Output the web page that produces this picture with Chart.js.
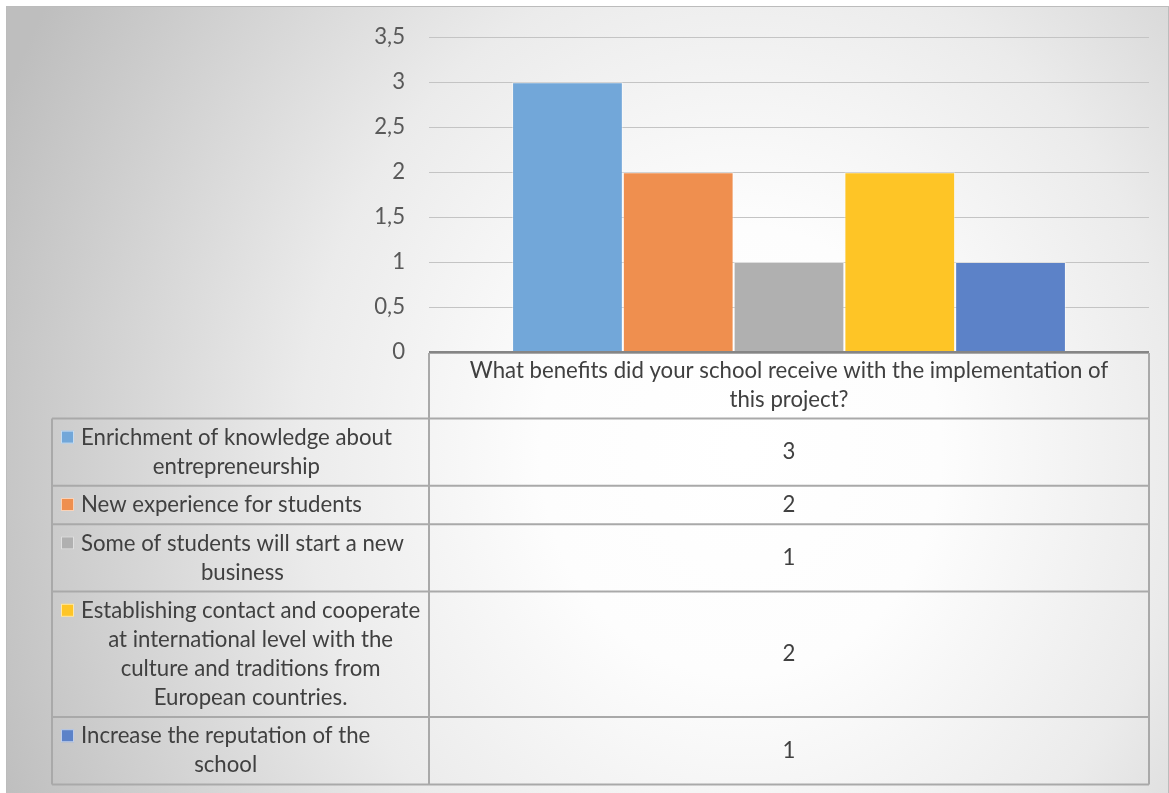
<!DOCTYPE html>
<html>
<head>
<meta charset="utf-8">
<script src="https://cdn.jsdelivr.net/npm/chart.js@4.4.1/dist/chart.umd.min.js"></script>
<style>
  html, body { margin: 0; padding: 0; background: #fff; }
  body { width: 1169px; height: 793px; overflow: hidden; position: relative; }
  #frame {
    position: absolute; left: 6px; top: 6px; width: 1161px; height: 800px;
    border: 1px solid #bcbcbc;
    background: radial-gradient(ellipse 800px 900px at 734px 444px,
      #ffffff 0%, #fdfdfd 25%, #ebebeb 55%, #bebebe 100%);
  }
  #wrap { position: absolute; left: 0; top: 0; width: 1169px; height: 793px; }
</style>
</head>
<body>
<div id="frame"></div>
<div id="wrap"><canvas id="chart"></canvas></div>
<script>
// --- データ ---
const question = ['What benefits did your school receive with the implementation of', 'this project?'];
const answers = [
  ['Enrichment of knowledge about', 'entrepreneurship'],
  ['New experience for students'],
  ['Some of students will start a new', 'business'],
  ['Establishing contact and cooperate', 'at international level with the', 'culture and traditions from', 'European countries.'],
  ['Increase the reputation of the', 'school']
];
const counts = [3, 2, 1, 2, 1];
const colors = ['#72a7d9', '#ef8f4f', '#b0b0b0', '#fec526', '#5c82c8'];
const yTickLabels = ['0', '0,5', '1', '1,5', '2', '2,5', '3', '3,5'];

// フォントサイズ: 一番長い凡例行が元の幅 (約340px) になるように合わせる
const FONT = 'Lato';
const probe = document.createElement('canvas').getContext('2d');
probe.font = '100px ' + FONT;
const fontPx = Math.round(100 * 340 / probe.measureText(answers[3][0]).width * 10) / 10;
const LINE_H = 29;
const TEXT_COLOR = '#404040';
const BORDER = '#a9a9a9';

// --- データテーブル (Excel風) を描くプラグイン ---
const dataTable = {
  id: 'dataTable',
  afterDraw(chart) {
    const ctx = chart.ctx;
    const xs = chart.scales.x;
    const top = chart.chartArea.bottom + 1;
    const colL = 52, colM = xs.left, colR = xs.right;
    const rowH = n => n * LINE_H + 9.4;

    ctx.save();
    ctx.font = fontPx + 'px ' + FONT;
    ctx.fillStyle = TEXT_COLOR;
    ctx.textBaseline = 'middle';
    ctx.textAlign = 'center';

    // ヘッダー行 (質問)
    const header = chart.data.labels[0];
    let y = top;
    const hh = rowH(header.length) - 2;
    header.forEach((line, i) => {
      ctx.fillText(line, (colM + colR) / 2, y + hh / 2 + (i - (header.length - 1) / 2) * LINE_H);
    });
    const rowTops = [y];
    y += hh;

    // 各回答の行
    chart.data.datasets.forEach(ds => {
      const lines = ds.label;
      const h = rowH(lines.length);
      const firstY = y + h / 2 - (lines.length - 1) * LINE_H / 2;

      // 凡例マーカー
      ctx.fillStyle = ds.backgroundColor;
      ctx.fillRect(colL + 9, firstY - 7, 13, 13);
      ctx.strokeStyle = 'rgba(255,255,255,0.6)';
      ctx.lineWidth = 1;
      ctx.strokeRect(colL + 9.5, firstY - 6.5, 12, 12);

      // ラベル: ブロック内で中央揃え
      ctx.fillStyle = TEXT_COLOR;
      const x0 = colL + 29;
      const blockW = Math.max(...lines.map(l => ctx.measureText(l).width));
      lines.forEach((line, i) => {
        ctx.fillText(line, x0 + blockW / 2, firstY + i * LINE_H);
      });

      // 値
      ctx.fillText(String(ds.data[0]), (colM + colR) / 2, y + h / 2);
      rowTops.push(y);
      y += h;
    });
    const bottom = y;

    // 罫線
    ctx.strokeStyle = BORDER;
    ctx.lineWidth = 2;
    ctx.beginPath();
    rowTops.forEach((ry, i) => {
      ctx.moveTo(i === 0 ? colM : colL, ry);
      ctx.lineTo(colR, ry);
    });
    ctx.moveTo(colL, bottom); ctx.lineTo(colR, bottom);
    ctx.moveTo(colL, rowTops[1]); ctx.lineTo(colL, bottom);
    ctx.moveTo(colM, top); ctx.lineTo(colM, bottom);
    ctx.moveTo(colR, top); ctx.lineTo(colR, bottom);
    ctx.stroke();

    // X軸の線
    ctx.strokeStyle = '#858585';
    ctx.lineWidth = 2;
    ctx.beginPath();
    ctx.moveTo(colM, chart.chartArea.bottom);
    ctx.lineTo(colR, chart.chartArea.bottom);
    ctx.stroke();
    ctx.restore();
  }
};

const ctx = document.getElementById('chart').getContext('2d');
new Chart(ctx, {
  type: 'bar',
  data: {
    labels: [question],
    datasets: answers.map((a, i) => ({
      label: a,
      data: [counts[i]],
      backgroundColor: colors[i],
      borderColor: 'rgba(255,255,255,0.45)',
      borderWidth: 1
    }))
  },
  options: {
    responsive: true,
    maintainAspectRatio: false,
    animation: false,
    layout: { padding: { left: 0, top: 36, right: 20, bottom: 441 } },
    datasets: { bar: { categoryPercentage: 5 / 6.5, barPercentage: 1 } },
    plugins: { legend: { display: false }, tooltip: { enabled: false } },
    scales: {
      x: { display: false },
      y: {
        min: 0, max: 3.5,
        afterFit: scale => { scale.width = 429; },
        border: { display: false },
        grid: { color: '#c4c4c4', lineWidth: 1, drawTicks: false },
        ticks: {
          stepSize: 0.5,
          padding: 24,
          color: '#595959',
          font: { family: FONT, size: fontPx },
          callback: (v, i) => yTickLabels[i]
        }
      }
    }
  },
  plugins: [dataTable]
});
</script>
</body>
</html>
